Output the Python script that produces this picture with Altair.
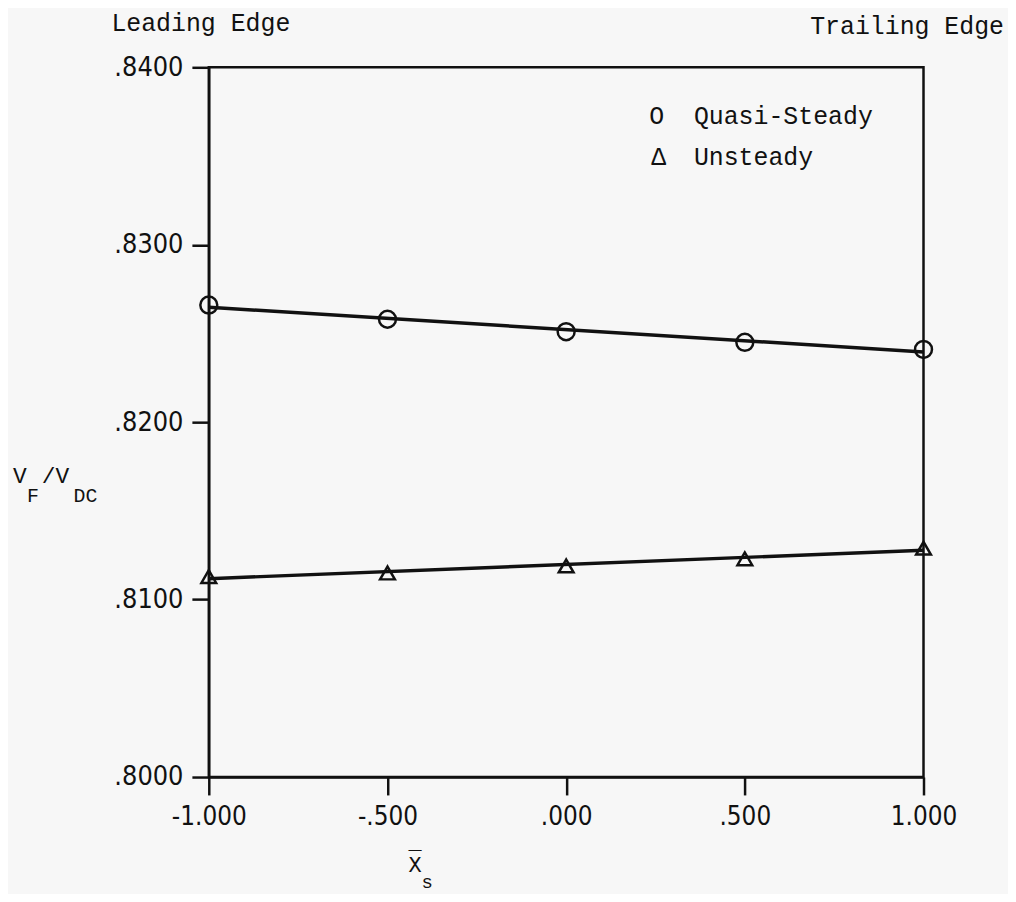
import altair as alt
import pandas as pd

# ---- data ----
x_pos = [-1.0, -0.5, 0.0, 0.5, 1.0]
quasi_steady = [0.8266, 0.8258, 0.8251, 0.8245, 0.8241]
unsteady = [0.8113, 0.8115, 0.8119, 0.8123, 0.8129]
series_names = ["Quasi-Steady", "Unsteady"]
y_ticks = [0.80, 0.81, 0.82, 0.83, 0.84]
x_ticks = [-1.0, -0.5, 0.0, 0.5, 1.0]
header_left = ["Leading Edge"]
header_right = ["Trailing Edge"]
legend_symbols = ["O", "\u0394"]

INK = "#111111"
MONO = "Liberation Mono, DejaVu Sans Mono, monospace"
TICKFONT = "DejaVu Sans Condensed, Liberation Sans Narrow, Liberation Sans, sans-serif"

df = pd.DataFrame({
    "x": x_pos * 2,
    "y": quasi_steady + unsteady,
    "series": [series_names[0]] * 5 + [series_names[1]] * 5,
})

fmt_expr = ("(datum.value < 0 ? '-' : '') + (abs(datum.value) < 1 ? "
            "substring(format(abs(datum.value), '{f}'), 1) : format(abs(datum.value), '{f}'))")

xscale = alt.Scale(domain=[-1, 1], nice=False, zero=False)
yscale = alt.Scale(domain=[0.80, 0.84], nice=False, zero=False)

xaxis = alt.Axis(values=x_ticks, labelExpr=fmt_expr.format(f=".3f"), title=None,
                 grid=False, tickSize=18, tickWidth=2.5, tickColor=INK,
                 domainColor=INK, domainWidth=2.5, labelFont=TICKFONT,
                 labelFontSize=26, labelColor=INK, labelPadding=9,
                 labelFlush=False)
yaxis = alt.Axis(values=y_ticks, labelExpr=fmt_expr.format(f=".4f"), title=None,
                 grid=False, tickSize=17, tickWidth=2.5, tickColor=INK,
                 domainColor=INK, domainWidth=2.5, labelFont=TICKFONT,
                 labelFontSize=27, labelColor=INK, labelPadding=9,
                 labelFlush=False)

base = alt.Chart(df)

fit = base.transform_regression("x", "y", groupby=["series"]).mark_line(
    color=INK, strokeWidth=3.5
).encode(
    x=alt.X("x:Q", scale=xscale, axis=xaxis),
    y=alt.Y("y:Q", scale=yscale, axis=yaxis),
    detail="series:N",
)

points = base.mark_point(filled=False, color=INK, strokeWidth=2.5, opacity=1).encode(
    x=alt.X("x:Q", scale=xscale),
    y=alt.Y("y:Q", scale=yscale),
    shape=alt.Shape("series:N",
                    scale=alt.Scale(domain=series_names, range=["circle", "triangle-up"]),
                    legend=None),
    size=alt.Size("series:N",
                  scale=alt.Scale(domain=series_names, range=[290, 220]),
                  legend=None),
)


def text_layer(texts, x, y, size, align="left", font=MONO):
    return alt.Chart(pd.DataFrame({"t": texts})).mark_text(
        align=align, baseline="alphabetic", font=font, fontSize=size, color=INK
    ).encode(text="t:N", x=alt.value(x), y=alt.value(y))


layers = [
    fit,
    points,
    text_layer(header_left, -98, -37, 25),
    text_layer(header_right, 800, -33, 25, align="right"),
    text_layer([legend_symbols[0]], 443, 57, 25),
    text_layer([series_names[0]], 488, 57, 25),
    text_layer([legend_symbols[1]], 445, 98, 25),
    text_layer([series_names[1]], 488, 98, 25),
    # y title V_F / V_DC
    text_layer(["V"], -197, 418, 23),
    text_layer(["F"], -183, 437, 20),
    text_layer(["/V"], -168, 418, 23),
    text_layer(["DC"], -136, 437, 20),
    # x title X-bar sub s
    text_layer(["X"], 201, 810, 22),
    text_layer(["\u00af"], 201, 806, 22),
    text_layer(["s"], 214, 826, 19),
]

chart = alt.layer(*layers).properties(
    width=719,
    height=714,
    autosize=alt.AutoSizeParams(type="none"),
    padding={"left": 202, "top": 57, "right": 85, "bottom": 115},
    background="#f7f7f7",
).configure_view(stroke=INK, strokeWidth=2.5)

chart.save("out.html", embed_options={"renderer": "svg", "actions": False})
